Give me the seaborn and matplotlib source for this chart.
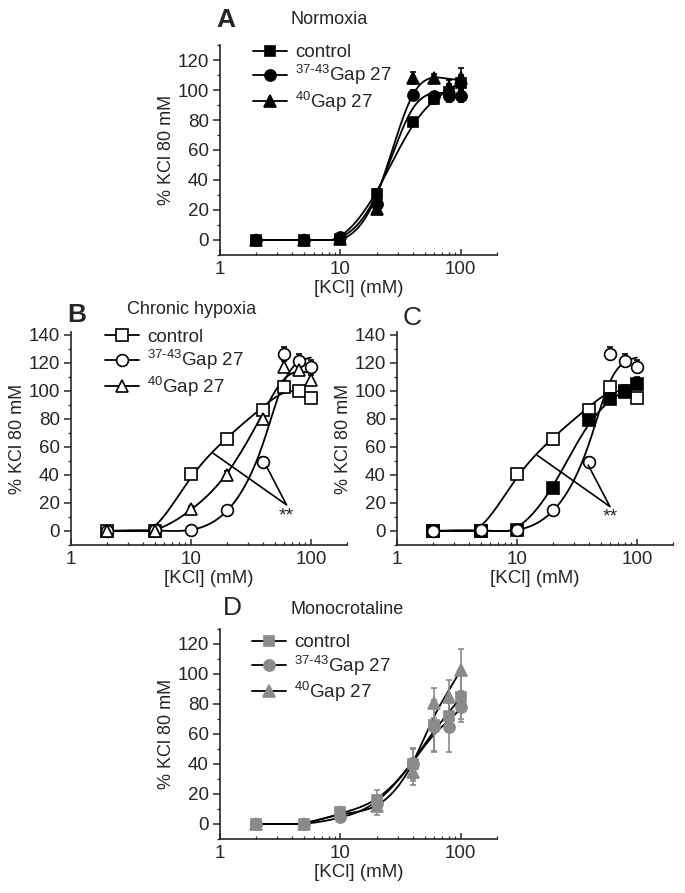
import numpy as np
import pandas as pd
import matplotlib
matplotlib.use("Agg")
import matplotlib.pyplot as plt
import seaborn as sns
from matplotlib.lines import Line2D

# ---------------- data ----------------
KCL = [2, 5, 10, 20, 40, 60, 80, 100]

A_control = [0, 0, 1, 31, 79, 94, 99, 105]
A_control_err = [1, 1, 1, 3, 2, 3, 5, 5]
A_gap3743 = [0, 0, 2, 24, 97, 96, 96, 96]
A_gap3743_err = [1, 1, 1, 4, 3, 3, 4, 4]
A_gap40 = [0, 0, 1, 21, 108, 108, 102, 108]
A_gap40_err = [1, 1, 1, 3, 4, 3, 5, 7]

B_control = [0, 0, 41, 66, 86, 103, 100, 95]
B_control_err = [1, 1, 3, 2, 2, 2, 2, 2]
B_gap3743 = [0, 1, 1, 15, 49, 126, 121, 117]
B_gap3743_err = [1, 1, 1, 2, 4, 5, 5, 5]
B_gap40 = [0, 0, 16, 40, 80, 117, 115, 108]
B_gap40_err = [1, 1, 2, 3, 3, 4, 3, 3]

D_control = [0, 0, 8, 16, 40, 66, 72, 85]
D_control_err = [1, 1, 3, 7, 11, 17, 9, 15]
D_gap3743 = [0, 0, 5, 14, 40, 65, 65, 78]
D_gap3743_err = [1, 1, 3, 5, 10, 17, 17, 10]
D_gap40 = [0, 0, 8, 12, 35, 81, 85, 103]
D_gap40_err = [1, 1, 3, 6, 9, 10, 11, 14]

LEGEND_LABELS = ["control", r"$^{37\text{-}43}$Gap 27", r"$^{40}$Gap 27"]
X_TICKS = [1, 10, 100]
X_TICKLABELS = ["1", "10", "100"]
XLABEL = "[KCl] (mM)"
YLABEL = "% KCl 80 mM"

# significance bracket annotation (x, y) : arm1, vertex, arm2, star position
B_SIG = [(15.3, 55.5), (62.7, 18.6), (42.7, 46.0)]
B_STAR = (62.7, 11.0)
C_SIG = [(14.6, 54.3), (59.6, 17.4), (39.3, 47.0)]
C_STAR = (59.6, 10.0)

# ---------------- style ----------------
sns.set_style("ticks")
plt.rcParams["font.family"] = ["Liberation Sans", "DejaVu Sans"]
plt.rcParams["mathtext.fontset"] = "custom"
plt.rcParams["mathtext.rm"] = "Liberation Sans"
plt.rcParams["mathtext.default"] = "regular"

W, H = 685, 893
fig = plt.figure(figsize=(W / 100, H / 100), dpi=100)


def rect(left, top, right, bottom):
    return [left / W, 1 - bottom / H, (right - left) / W, (bottom - top) / H]


axA = fig.add_axes(rect(220, 45, 497, 255))
axB = fig.add_axes(rect(71, 332, 347, 545))
axC = fig.add_axes(rect(397, 332, 673, 545))
axD = fig.add_axes(rect(220, 629, 497, 839))


def fitted_curve(x, y, lam=1e-3):
    """Penalised smoothing curve of the data in log-x (smoothing spline)."""
    lx = np.log10(np.asarray(x, float))
    n = 300
    grid = np.linspace(lx[0], lx[-1], n)
    h = grid[1] - grid[0]
    idx = np.round((lx - lx[0]) / h).astype(int)
    w = np.zeros(n)
    z = np.zeros(n)
    w[idx] = 1.0
    z[idx] = np.asarray(y, float)
    D = np.diff(np.eye(n), 2, axis=0)
    f = np.linalg.solve(np.diag(w) + lam / h ** 3 * D.T @ D, w * z)
    return 10 ** grid, np.maximum(f, 0)


def draw_series(ax, y, err, marker, mfc, mec, ms, ecolor, upper_only=False):
    xs, ys = fitted_curve(KCL, y)
    df = pd.DataFrame({"x": xs, "y": ys})
    sns.lineplot(data=df, x="x", y="y", ax=ax, color="black", lw=1.3,
                 estimator=None, sort=False, zorder=2)
    e = np.asarray(err, float)
    yerr = [np.zeros_like(e), e] if upper_only else e
    ax.errorbar(KCL, y, yerr=yerr, fmt=marker, ms=ms, mfc=mfc, mec=mec,
                mew=1.2, ecolor=ecolor, elinewidth=1.2, capsize=2.5,
                capthick=1.2, zorder=3, ls="none")


def style_axis(ax, ytop):
    ax.set_xscale("log")
    ax.set_xlim(1, 200)
    ax.set_ylim(-10, ytop)
    ax.set_xticks(X_TICKS)
    ax.set_xticklabels(X_TICKLABELS)
    ax.set_yticks(np.arange(0, ytop - 1, 20))
    ax.yaxis.set_minor_locator(matplotlib.ticker.MultipleLocator(10))
    for s in ["top", "right"]:
        ax.spines[s].set_visible(False)
    for s in ["left", "bottom"]:
        ax.spines[s].set_linewidth(1.2)
    ax.tick_params(axis="y", which="major", direction="out", length=5,
                   width=1.1, labelsize=13.5, pad=3)
    ax.tick_params(axis="y", which="minor", direction="out", length=2.5, width=0.9)
    ax.tick_params(axis="x", which="major", direction="in", length=4,
                   width=1.1, labelsize=13.5, pad=4)
    ax.tick_params(axis="x", which="minor", direction="in", length=2.5, width=0.9)
    ax.set_xlabel(XLABEL, fontsize=13.5, labelpad=2)
    ax.set_ylabel(YLABEL, fontsize=13, labelpad=2)


def add_legend(ax, handles, x0, y0):
    ax.legend(handles=handles, labels=LEGEND_LABELS, loc="upper left",
              bbox_to_anchor=(x0, y0), frameon=False, fontsize=13.5,
              handlelength=1.8, handletextpad=0.45, labelspacing=0.12,
              borderpad=0, borderaxespad=0)


def handle(marker, mfc, mec, ms):
    return Line2D([], [], color="black", lw=1.3, marker=marker, ms=ms,
                  mfc=mfc, mec=mec, mew=1.2)


# ---------------- panel A ----------------
draw_series(axA, A_control, A_control_err, "s", "black", "black", 7.5, "black")
draw_series(axA, A_gap3743, A_gap3743_err, "o", "black", "black", 8, "black")
draw_series(axA, A_gap40, A_gap40_err, "^", "black", "black", 8, "black")
style_axis(axA, 130)
add_legend(axA, [handle("s", "black", "black", 7.5), handle("o", "black", "black", 8),
                 handle("^", "black", "black", 8)], 0.119, 1.005)

# ---------------- panel B ----------------
draw_series(axB, B_control, B_control_err, "s", "white", "black", 8, "black", True)
draw_series(axB, B_gap3743, B_gap3743_err, "o", "white", "black", 8.5, "black", True)
draw_series(axB, B_gap40, B_gap40_err, "^", "white", "black", 8, "black", True)
style_axis(axB, 142)
add_legend(axB, [handle("s", "white", "black", 8), handle("o", "white", "black", 8.5),
                 handle("^", "white", "black", 8)], 0.123, 1.015)

# ---------------- panel C ----------------
draw_series(axC, B_control, B_control_err, "s", "white", "black", 8, "black", True)
draw_series(axC, A_control, A_control_err, "s", "black", "black", 8, "black", True)
draw_series(axC, B_gap3743, B_gap3743_err, "o", "white", "black", 8.5, "black", True)
style_axis(axC, 142)

for ax, sig, star in [(axB, B_SIG, B_STAR), (axC, C_SIG, C_STAR)]:
    sx, sy = zip(*sig)
    ax.plot(sx, sy, color="black", lw=1.2, zorder=4)
    ax.text(star[0], star[1], "**", ha="center", va="center", fontsize=14)

# ---------------- panel D ----------------
GREY = "#8a8a8a"
draw_series(axD, D_control, D_control_err, "s", GREY, GREY, 7.5, GREY)
draw_series(axD, D_gap3743, D_gap3743_err, "o", GREY, GREY, 8, GREY)
draw_series(axD, D_gap40, D_gap40_err, "^", GREY, GREY, 8, GREY)
style_axis(axD, 130)
add_legend(axD, [handle("s", GREY, GREY, 7.5), handle("o", GREY, GREY, 8),
                 handle("^", GREY, GREY, 8)], 0.116, 0.976)

# ---------------- panel letters and titles ----------------
def ftext(x, y, s, size, weight="normal"):
    fig.text(x / W, 1 - y / H, s, fontsize=size, fontweight=weight,
             ha="left", va="center")

ftext(216, 20, "A", 19, "bold")
ftext(291, 20, "Normoxia", 13)
ftext(67, 315, "B", 19, "bold")
ftext(127, 310, "Chronic hypoxia", 13)
ftext(403, 318, "C", 19)
ftext(223, 608, "D", 19)
ftext(291, 609, "Monocrotaline", 13)

fig.savefig("out.png", dpi=100)
